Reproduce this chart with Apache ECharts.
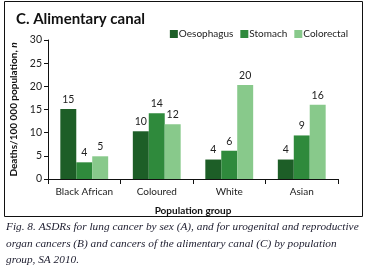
<!DOCTYPE html>
<html>
<head>
<meta charset="utf-8">
<script src="https://cdn.jsdelivr.net/npm/echarts@6/dist/echarts.min.js"></script>
<style>
  html, body { margin: 0; padding: 0; background: #fff; }
  #container { width: 367px; height: 275px; }
</style>
</head>
<body>
<div id="container"></div>
<script>
var groups = ['Black African', 'Coloured', 'White', 'Asian'];
var oesophagus = [15.1, 10.3, 4.2, 4.2];
var stomach = [3.6, 14.2, 6.1, 9.4];
var colorectal = [4.9, 11.8, 20.3, 16.0];
var yTicks = [0, 5, 10, 15, 20, 25, 30];

var captionLines = [
  'Fig. 8. ASDRs for lung cancer by sex (A), and for urogenital and reproductive',
  'organ cancers (B) and cancers of the alimentary canal (C) by population',
  'group, SA 2010.'
];

var dom = document.getElementById('container');
var myChart = echarts.init(dom, null, { renderer: 'canvas' });

var font = 'Lato';

function barSeries(name, data, color) {
  return {
    name: name,
    type: 'bar',
    data: data,
    barGap: '0%',
    barCategoryGap: '34%',
    itemStyle: { color: color },
    label: {
      show: true,
      position: 'top',
      distance: 4,
      fontSize: 10.5,
      fontFamily: font,
      color: '#222',
      formatter: function (p) { return Math.round(p.value); }
    }
  };
}

// box and caption
var graphics = [{
  type: 'rect',
  shape: { x: 4.5, y: 1.5, width: 358, height: 215 },
  style: { fill: 'none', stroke: '#111', lineWidth: 1 }
}];
captionLines.forEach(function (t, i) {
  graphics.push({
    type: 'text',
    left: 6,
    top: 222 + i * 16.5,
    style: {
      text: t,
      font: 'italic 11.3px "Liberation Serif"',
      fill: '#1c1c2e'
    }
  });
});

var option = {
  animation: false,
  title: {
    text: 'C. Alimentary canal',
    left: 11,
    top: 7,
    textStyle: { fontSize: 15, fontWeight: 'bold', fontFamily: font, color: '#111' }
  },
  legend: {
    data: ['Oesophagus', 'Stomach', 'Colorectal'],
    right: 14,
    top: 24,
    itemWidth: 8,
    itemHeight: 8,
    itemGap: 7,
    icon: 'rect',
    textStyle: { fontSize: 10, fontFamily: font, color: '#222', padding: [0, 0, 0, -4] }
  },
  grid: { left: 48, right: 29, top: 40, bottom: 96 },
  xAxis: {
    type: 'category',
    data: groups,
    name: 'Population group',
    nameLocation: 'middle',
    nameGap: 27,
    nameTextStyle: { fontSize: 10, fontWeight: 'bold', fontFamily: font, color: '#111' },
    axisLine: { lineStyle: { color: '#111' } },
    axisTick: { show: true, length: 5, lineStyle: { color: '#111' } },
    axisLabel: { interval: 0, fontSize: 10, fontFamily: font, color: '#222', margin: 8 },
    splitLine: { show: false }
  },
  yAxis: {
    type: 'value',
    min: yTicks[0],
    max: yTicks[yTicks.length - 1],
    interval: 5,
    name: '{a|Deaths/100 000 population, }{b|n}',
    nameLocation: 'middle',
    nameGap: 28,
    nameTextStyle: {
      rich: {
        a: { fontSize: 10, fontWeight: 'bold', fontFamily: font, color: '#111' },
        b: { fontSize: 10, fontStyle: 'italic', fontWeight: 'bold', fontFamily: font, color: '#111' }
      }
    },
    axisLine: { show: true, lineStyle: { color: '#111' } },
    axisTick: { show: true, length: 4, lineStyle: { color: '#111' } },
    axisLabel: { fontSize: 10.5, fontFamily: font, color: '#222', margin: 6 },
    splitLine: { show: false }
  },
  series: [
    barSeries('Oesophagus', oesophagus, '#1d5e27'),
    barSeries('Stomach', stomach, '#2f8a3c'),
    barSeries('Colorectal', colorectal, '#88c98b')
  ],
  graphic: graphics
};

myChart.setOption(option);
window.addEventListener('resize', myChart.resize);
</script>
</body>
</html>
